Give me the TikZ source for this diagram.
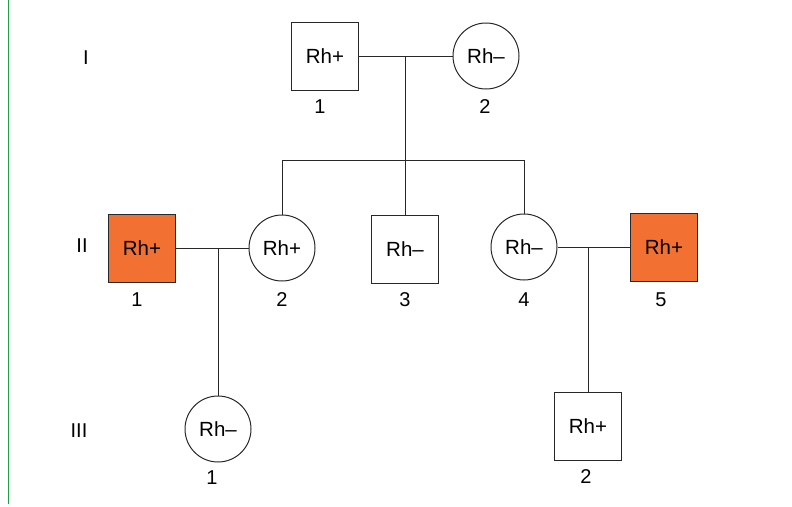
\documentclass[tikz,border=0pt]{standalone}
\usepackage{fontspec}
\setmainfont{Liberation Sans}
\usepackage{xcolor}
\usepackage{tikz}
\usetikzlibrary{positioning}
\definecolor{rhorange}{RGB}{242, 112, 50}
\definecolor{edgegreen}{RGB}{30, 160, 70}
\definecolor{linegray}{RGB}{40, 40, 40}

\begin{document}
\begin{tikzpicture}[x=1pt, y=-1pt,
    male/.style={draw=linegray, line width=1pt, rectangle, minimum width=67pt, minimum height=68pt, inner sep=0pt, font=\fontsize{20.5}{23}\selectfont},
    female/.style={draw=linegray, line width=1pt, circle, minimum size=66pt, inner sep=0pt, font=\fontsize{20.5}{23}\selectfont},
    affected/.style={fill=rhorange},
    num/.style={font=\fontsize{20}{23}\selectfont, inner sep=0pt},
    gen/.style={font=\fontsize{20}{23}\selectfont, inner sep=0pt},
    link/.style={draw=linegray, line width=1pt}]
\useasboundingbox (0,0) rectangle (792,506);

% left border line
\draw[edgegreen, line width=1.5pt] (8.5,0) -- (8.5,504);

% Generation labels
\node[gen] (gI) at (86,58) {I};
\node[gen] (gII) at (82,246) {II};
\node[gen] (gIII) at (79,431) {III};

% Generation I
\node[male] (I1) at (325,56) {Rh+};
\node[female] (I2) at (486,56) {Rh--};
\node[num] (nI1) at (320,107) {1};
\node[num] (nI2) at (485,107) {2};

% Generation II
\node[male, affected] (II1) at (142,248) {Rh+};
\node[female] (II2) at (282,248) {Rh+};
\node[male] (II3) at (405,249) {Rh--};
\node[female] (II4) at (524,247) {Rh--};
\node[male, affected] (II5) at (664,247) {Rh+};
\node[num] (nII1) at (137,300) {1};
\node[num] (nII2) at (282,300) {2};
\node[num] (nII3) at (405,300) {3};
\node[num] (nII4) at (524,300) {4};
\node[num] (nII5) at (661,300) {5};

% Generation III
\node[female] (III1) at (218,429) {Rh--};
\node[male] (III2) at (588,426) {Rh+};
\node[num] (nIII1) at (212,478) {1};
\node[num] (nIII2) at (586,477) {2};

% Mating and sibship lines
\coordinate (m1) at (405,56);
\coordinate (s0) at (405,160);
\coordinate (s1) at (282,160);
\coordinate (s2) at (524,160);
\draw[link] (I1) -- (I2);
\draw[link] (m1) -- (s0);
\draw[link] (s1) -- (s2);
\draw[link] (s1) -- (II2.north);
\draw[link] (s0) -- (II3.north);
\draw[link] (s2) -- (II4.north);

\coordinate (m2) at (218,248);
\draw[link] (II1) -- (II2);
\draw[link] (m2) -- (III1.north);

\coordinate (m3) at (588,247);
\draw[link] (II4) -- (II5);
\draw[link] (m3) -- (III2.north);
\end{tikzpicture}
\end{document}
